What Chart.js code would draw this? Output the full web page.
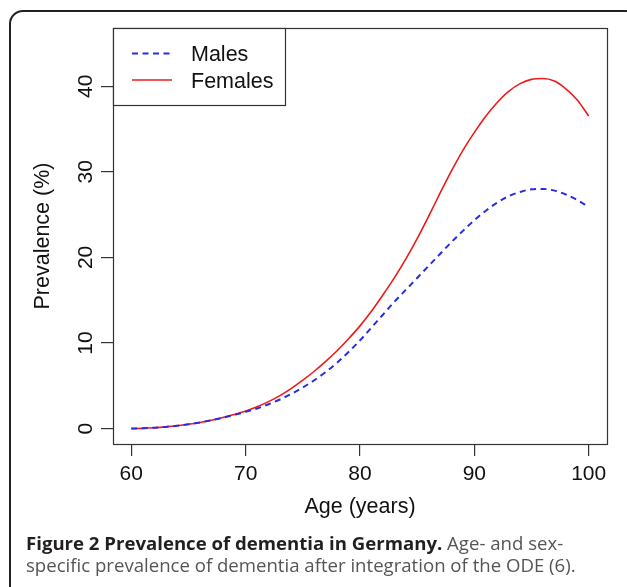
<!DOCTYPE html>
<html><head><meta charset="utf-8">
<script src="https://cdn.jsdelivr.net/npm/chart.js@4.4.0/dist/chart.umd.min.js"></script>
<style>
html,body{margin:0;padding:0;background:#fff;overflow:hidden;}
#wrap{position:relative;width:627px;height:587px;overflow:hidden;}
#c{position:absolute;left:0;top:0;}
#frame{position:absolute;left:9px;top:10px;width:631px;height:640px;border:2px solid #222;border-radius:14px;box-sizing:border-box;}
#cap{position:absolute;left:26px;top:532px;font-family:'Open Sans',sans-serif;font-size:18.6px;line-height:22px;color:#555;white-space:nowrap;}
#cap b{color:#231f20;font-weight:700;}
</style></head>
<body><div id="wrap"><canvas id="c" width="627" height="587"></canvas><div id="frame"></div>
<div id="cap"><b>Figure 2 Prevalence of dementia in Germany.</b> Age- and sex-<br>specific prevalence of dementia after integration of the ODE (6).</div></div>
<script>
const ages = [60,61,62,63,64,65,66,67,68,69,70,71,72,73,74,75,76,77,78,79,80,81,82,83,84,85,86,87,88,89,90,91,92,93,94,95,96,97,98,99,100];
const males = [0,0.03,0.1,0.2,0.33,0.5,0.72,0.97,1.27,1.6,1.95,2.35,2.85,3.4,4.05,4.8,5.65,6.6,7.7,8.95,10.3,11.8,13.3,14.8,16.2,17.6,19.0,20.4,21.8,23.1,24.35,25.45,26.4,27.15,27.65,27.95,28.0,27.8,27.35,26.7,25.9];
const females = [0,0.03,0.1,0.2,0.33,0.5,0.72,0.98,1.3,1.65,2.05,2.55,3.15,3.85,4.7,5.65,6.7,7.85,9.1,10.5,12.0,13.7,15.6,17.6,19.8,22.2,24.8,27.5,30.1,32.5,34.6,36.5,38.1,39.4,40.3,40.8,40.9,40.6,39.7,38.4,36.5];
const seriesNames = ['Males','Females'];
const xTicks = [60,70,80,90,100];
const yTicks = [0,10,20,30,40];
const xTitle = 'Age (years)';
const yTitle = 'Prevalence (%)';

const FONT = "'Liberation Sans', Arial, sans-serif";
const MALE_COLOR = '#2a2ae6';
const FEMALE_COLOR = '#ee1a1a';

const custom = {
  id:'custom',
  afterDraw(chart){
    const ctx = chart.ctx, a = chart.chartArea;
    const ys = chart.scales.y;
    ctx.save();
    ctx.strokeStyle = '#333'; ctx.lineWidth = 1.2;
    ctx.strokeRect(Math.round(a.left)+0.5, Math.round(a.top)+0.5, Math.round(a.right-a.left), Math.round(a.bottom-a.top));
    ctx.fillStyle = '#111';
    ctx.font = '21px ' + FONT;
    ctx.textAlign = 'center'; ctx.textBaseline = 'middle';
    yTicks.forEach(v=>{
      const y = ys.getPixelForValue(v);
      ctx.save(); ctx.translate(86, y); ctx.rotate(-Math.PI/2);
      ctx.fillText(String(v), 0, 0); ctx.restore();
    });
    ctx.font = '21.5px ' + FONT;
    ctx.fillText(xTitle, (a.left+a.right)/2, 507);
    ctx.save(); ctx.translate(43, (a.top+a.bottom)/2); ctx.rotate(-Math.PI/2);
    ctx.fillText(yTitle, 0, 0); ctx.restore();
    const lx = Math.round(a.left)+0.5, ly = Math.round(a.top)+0.5;
    ctx.fillStyle = '#fff';
    ctx.fillRect(lx, ly, 172, 77);
    ctx.strokeStyle = '#333'; ctx.lineWidth = 1.2;
    ctx.strokeRect(lx, ly, 172, 77);
    const ds = chart.data.datasets;
    const rows = [53.5, 80];
    ds.forEach((d,i)=>{
      ctx.strokeStyle = d.borderColor; ctx.lineWidth = d.borderWidth;
      ctx.setLineDash(d.borderDash || []);
      ctx.beginPath(); ctx.moveTo(132, rows[i]); ctx.lineTo(172, rows[i]); ctx.stroke();
      ctx.setLineDash([]);
      ctx.fillStyle = '#111'; ctx.textAlign = 'left'; ctx.textBaseline = 'middle';
      ctx.font = '21.5px ' + FONT;
      ctx.fillText(d.label, 191, rows[i] + 2);
    });
    ctx.restore();
  }
};

new Chart(document.getElementById('c'), {
  type:'line',
  data:{
    datasets:[
      {label:seriesNames[0], data:ages.map((a,i)=>({x:a,y:males[i]})), borderColor:MALE_COLOR, borderWidth:2, borderDash:[6,4.5], pointRadius:0, fill:false, cubicInterpolationMode:'monotone'},
      {label:seriesNames[1], data:ages.map((a,i)=>({x:a,y:females[i]})), borderColor:FEMALE_COLOR, borderWidth:1.6, pointRadius:0, fill:false, cubicInterpolationMode:'monotone'}
    ]
  },
  options:{
    responsive:false, animation:false,
    layout:{padding:{left:0, top:28, right:20, bottom:0}},
    plugins:{legend:{display:false}, tooltip:{enabled:false}},
    scales:{
      x:{type:'linear', min:58.4, max:101.6,
        afterBuildTicks:s=>{s.ticks = xTicks.map(v=>({value:v}));},
        afterFit:s=>{s.height = 143;},
        border:{display:false},
        grid:{drawOnChartArea:false, drawTicks:true, tickLength:12, color:'#333', lineWidth:1.2},
        ticks:{font:{family:FONT, size:21}, color:'#111', padding:6, maxRotation:0, autoSkip:false}
      },
      y:{type:'linear', min:-1.8, max:46.8,
        afterBuildTicks:s=>{s.ticks = yTicks.map(v=>({value:v}));},
        afterFit:s=>{s.width = 113;},
        border:{display:false},
        grid:{drawOnChartArea:false, drawTicks:true, tickLength:12, color:'#333', lineWidth:1.2},
        ticks:{display:false}
      }
    }
  },
  plugins:[custom]
});
</script>
</body></html>
